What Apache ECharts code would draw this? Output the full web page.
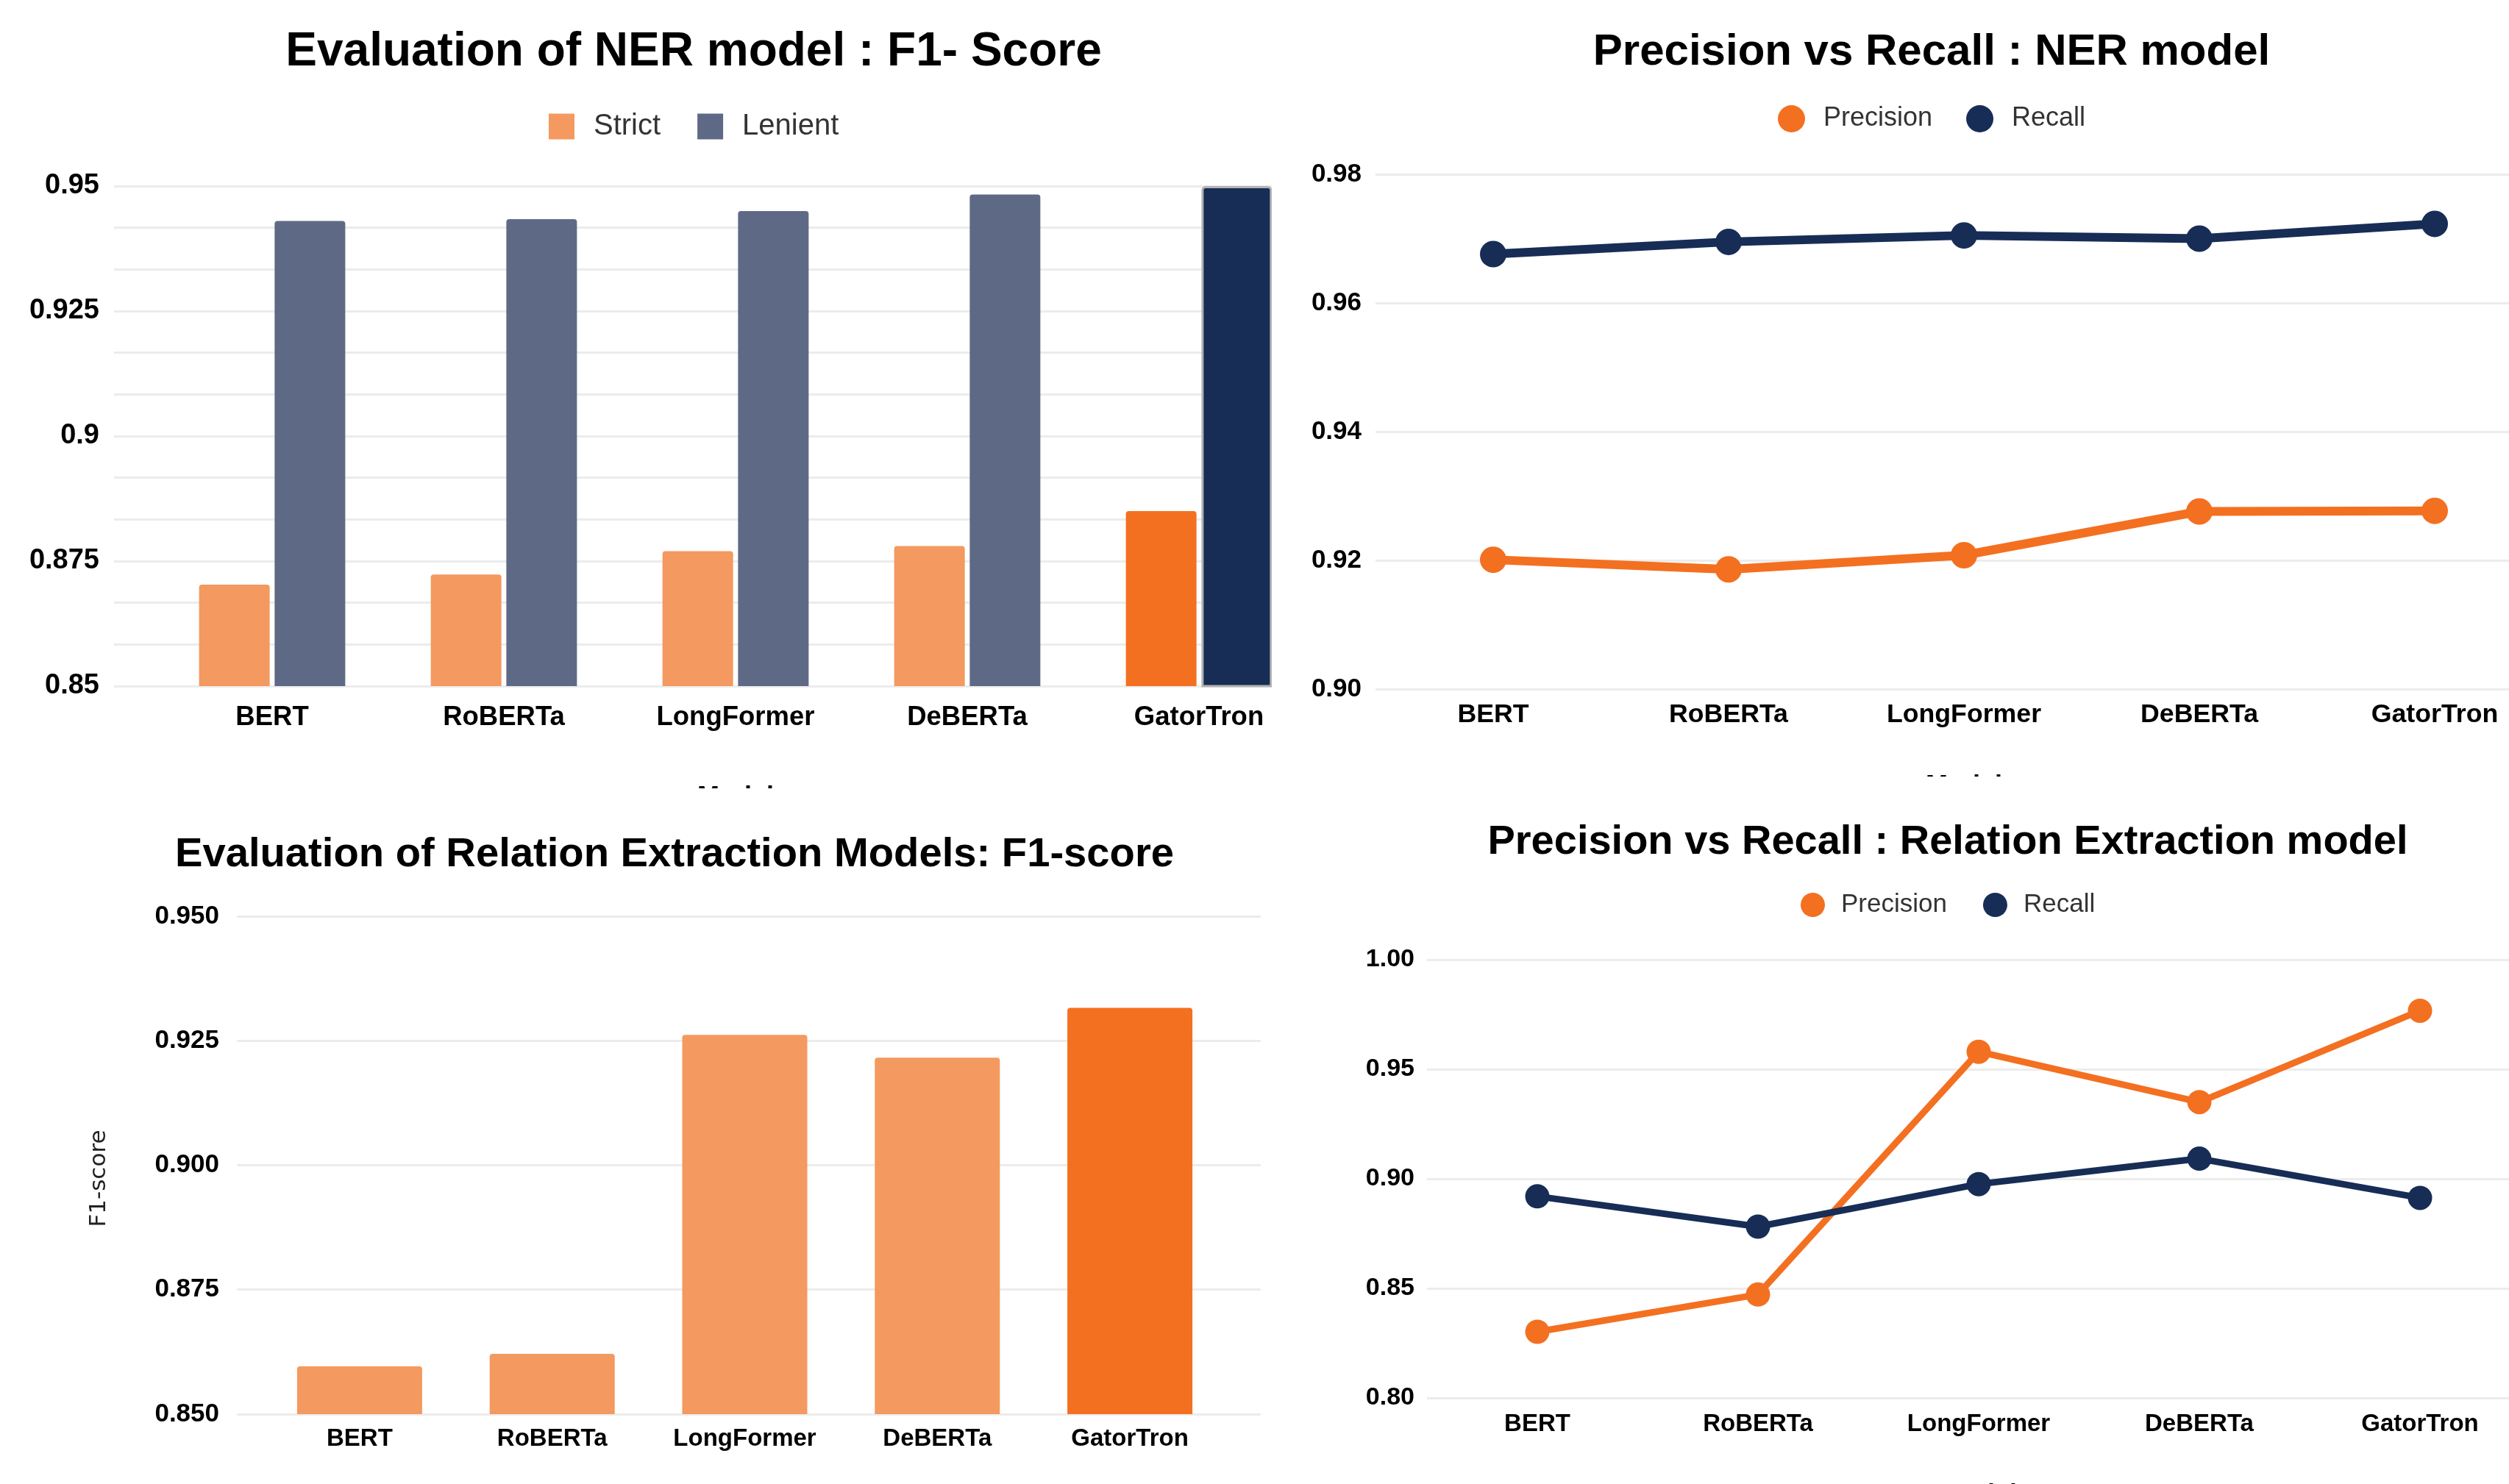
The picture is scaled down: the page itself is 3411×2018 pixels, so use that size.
<!DOCTYPE html>
<html>
<head>
<meta charset="utf-8">
<script src="https://cdn.jsdelivr.net/npm/echarts@6/dist/echarts.min.js"></script>
<style>
html,body{margin:0;padding:0;background:#fff;width:3411px;height:2018px;overflow:hidden;}
.panel{position:absolute;overflow:hidden;background:#fff;}
.chart{position:absolute;left:0;top:0;}
</style>
</head>
<body>
<div class="panel" style="left:0;top:0;width:1729px;height:1072px"><div id="c1" class="chart" style="width:1900px;height:1200px"></div></div>
<div class="panel" style="left:1729px;top:0;width:1682px;height:1056px"><div id="c2" class="chart" style="width:1800px;height:1200px"></div></div>
<div class="panel" style="left:0;top:1072px;width:1729px;height:946px"><div id="c3" class="chart" style="width:1729px;height:1100px"></div></div>
<div class="panel" style="left:1729px;top:1056px;width:1682px;height:962px"><div id="c4" class="chart" style="width:1800px;height:1100px"></div></div>
<script>
// ---- data ----
const models = ['BERT', 'RoBERTa', 'LongFormer', 'DeBERTa', 'GatorTron'];
const highlightModel = 'GatorTron';
const nerStrictF1 = [0.8703, 0.8723, 0.8770, 0.8780, 0.8850];
const nerLenientF1 = [0.9430, 0.9434, 0.9450, 0.9483, 0.9500];
const nerPrecision = [0.9201, 0.9186, 0.9208, 0.9276, 0.9277];
const nerRecall = [0.9676, 0.9695, 0.9705, 0.9700, 0.9723];
const reF1 = [0.8596, 0.8621, 0.9262, 0.9216, 0.9316];
const rePrecision = [0.8302, 0.8472, 0.9580, 0.9350, 0.9767];
const reRecall = [0.8920, 0.8782, 0.8976, 0.9092, 0.8913];

// ---- styles ----
const FONT = 'Liberation Sans, Arial, sans-serif';
const ORANGE = '#f37021', ORANGE_FADED = '#f4995f';
const NAVY = '#172d56', NAVY_FADED = '#5e6a85';
const GRID_COLOR = '#ececec';

function fmt(d) { return v => v.toFixed(d); }
function fmtTrim(v) { return String(parseFloat(v.toFixed(3))); }

function titleOpt(text, cx, cy, size) {
  return {
    text: text, left: cx, top: cy, padding: 0,
    textAlign: 'center', textVerticalAlign: 'middle',
    textStyle: { fontFamily: FONT, fontWeight: 'bold', fontSize: size, color: '#000' }
  };
}
function yLabel(size, margin, formatter) {
  return { fontFamily: FONT, fontWeight: 'bold', fontSize: size, color: '#000', margin: margin, formatter: formatter };
}
function xLabel(size, margin) {
  return { fontFamily: FONT, fontWeight: 'bold', fontSize: size, color: '#000', margin: margin, interval: 0 };
}
const splitLine = { show: true, lineStyle: { color: GRID_COLOR, width: 3 } };

// ---- Chart 1: NER F1 ----
(function () {
  const chart = echarts.init(document.getElementById('c1'), null, { renderer: 'canvas' });
  const strictData = nerStrictF1.map((v, i) => ({
    value: v, itemStyle: { color: models[i] === highlightModel ? ORANGE : ORANGE_FADED }
  }));
  const lenientData = nerLenientF1.map((v, i) => models[i] === highlightModel
    ? { value: v, itemStyle: { color: NAVY, borderColor: '#b3b3b3', borderWidth: 3 } }
    : { value: v, itemStyle: { color: NAVY_FADED } });
  chart.setOption({
    backgroundColor: '#fff',
    animation: false,
    title: titleOpt('Evaluation of NER model : F1- Score', 943, 71, 64),
    legend: {
      left: 746, top: 152, padding: 0, itemWidth: 35, itemHeight: 35, itemGap: 50, icon: 'rect',
      textStyle: { fontFamily: FONT, fontSize: 40, color: '#333', lineHeight: 35, padding: [0, 0, 0, 21] },
      data: ['Strict', 'Lenient']
    },
    grid: [
      { left: 155, top: 253, width: 1632, height: 680 },
      { left: 212.5, top: 253, width: 1575, height: 680 }
    ],
    xAxis: [
      { gridIndex: 0, type: 'value', show: false },
      { gridIndex: 1, type: 'category', data: models,
        axisLine: { show: false }, axisTick: { show: false }, axisLabel: xLabel(36.5, 24),
        name: 'Model', nameLocation: 'middle', nameGap: 134,
        nameTextStyle: { fontFamily: FONT, fontWeight: 'bold', fontSize: 36, color: '#000' } }
    ],
    yAxis: [
      { gridIndex: 0, type: 'value', min: 0.85, max: 0.95, interval: 0.025,
        axisLine: { show: false }, axisTick: { show: false },
        axisLabel: yLabel(38, 20, fmtTrim),
        splitLine: splitLine,
        minorTick: { show: false, splitNumber: 3 },
        minorSplitLine: { show: true, lineStyle: { color: GRID_COLOR, width: 3 } } },
      { gridIndex: 1, type: 'value', min: 0.85, max: 0.95, show: false, splitLine: { show: false } }
    ],
    series: [
      { name: 'Strict', type: 'bar', xAxisIndex: 1, yAxisIndex: 1, barWidth: 96, barGap: '7%',
        itemStyle: { color: ORANGE_FADED, borderRadius: [4, 4, 0, 0] }, data: strictData },
      { name: 'Lenient', type: 'bar', xAxisIndex: 1, yAxisIndex: 1, barWidth: 96, barGap: '7%',
        itemStyle: { color: NAVY_FADED, borderRadius: [4, 4, 0, 0] }, data: lenientData }
    ]
  });
})();

// ---- Chart 2: NER precision vs recall ----
(function () {
  const chart = echarts.init(document.getElementById('c2'), null, { renderer: 'canvas' });
  chart.setOption({
    backgroundColor: '#fff',
    animation: false,
    title: titleOpt('Precision vs Recall : NER model', 897, 71, 60),
    legend: {
      left: 688, top: 143, padding: 0, itemWidth: 37, itemHeight: 37, itemGap: 46, icon: 'circle',
      textStyle: { fontFamily: FONT, fontSize: 36, color: '#333', lineHeight: 37, padding: [0, 0, 0, 20] },
      data: ['Precision', 'Recall']
    },
    grid: { left: 141, top: 237, width: 1600, height: 700 },
    xAxis: { type: 'category', data: models, boundaryGap: true,
      axisLine: { show: false }, axisTick: { show: false }, axisLabel: xLabel(35.7, 17),
      name: 'Model', nameLocation: 'middle', nameGap: 115,
      nameTextStyle: { fontFamily: FONT, fontWeight: 'bold', fontSize: 36, color: '#000' } },
    yAxis: { type: 'value', min: 0.90, max: 0.98, interval: 0.02,
      axisLine: { show: false }, axisTick: { show: false },
      axisLabel: yLabel(35, 19, fmt(2)), splitLine: splitLine },
    series: [
      { name: 'Precision', type: 'line', data: nerPrecision, symbol: 'circle', symbolSize: 36,
        lineStyle: { color: ORANGE, width: 12 }, itemStyle: { color: ORANGE } },
      { name: 'Recall', type: 'line', data: nerRecall, symbol: 'circle', symbolSize: 36,
        lineStyle: { color: NAVY, width: 12 }, itemStyle: { color: NAVY } }
    ]
  });
})();

// ---- Chart 3: Relation extraction F1 ----
(function () {
  const chart = echarts.init(document.getElementById('c3'), null, { renderer: 'canvas' });
  const barData = reF1.map((v, i) => ({
    value: v, itemStyle: { color: models[i] === highlightModel ? ORANGE : ORANGE_FADED }
  }));
  chart.setOption({
    backgroundColor: '#fff',
    animation: false,
    title: titleOpt('Evaluation of Relation Extraction Models: F1-score', 917, 91, 56.2),
    grid: [
      { left: 322, top: 174, width: 1392, height: 677 },
      { left: 358, top: 174, width: 1309, height: 677 }
    ],
    xAxis: [
      { gridIndex: 0, type: 'value', show: false },
      { gridIndex: 1, type: 'category', data: models,
        axisLine: { show: false }, axisTick: { show: false }, axisLabel: xLabel(33, 17) }
    ],
    yAxis: [
      { gridIndex: 0, type: 'value', min: 0.85, max: 0.95, interval: 0.025,
        axisLine: { show: false }, axisTick: { show: false },
        axisLabel: yLabel(35, 24, fmt(3)), splitLine: splitLine,
        name: 'F1-score', nameLocation: 'middle', nameRotate: 90, nameGap: 172,
        nameTextStyle: { fontFamily: 'DejaVu Sans, sans-serif', fontSize: 31, color: '#222', padding: [0, 36, 0, 0] } },
      { gridIndex: 1, type: 'value', min: 0.85, max: 0.95, show: false, splitLine: { show: false } }
    ],
    series: [
      { name: 'F1-score', type: 'bar', xAxisIndex: 1, yAxisIndex: 1, barWidth: 170,
        itemStyle: { color: ORANGE_FADED, borderRadius: [4, 4, 0, 0] }, data: barData }
    ]
  });
})();

// ---- Chart 4: Relation extraction precision vs recall ----
(function () {
  const chart = echarts.init(document.getElementById('c4'), null, { renderer: 'canvas' });
  chart.setOption({
    backgroundColor: '#fff',
    animation: false,
    title: titleOpt('Precision vs Recall : Relation Extraction model', 919, 90, 56),
    legend: {
      left: 719, top: 157, padding: 0, itemWidth: 33, itemHeight: 33, itemGap: 49, icon: 'circle',
      textStyle: { fontFamily: FONT, fontSize: 35, color: '#333', lineHeight: 33, padding: [0, 0, 0, 17] },
      data: ['Precision', 'Recall']
    },
    grid: { left: 211, top: 249, width: 1500, height: 596 },
    xAxis: { type: 'category', data: models, boundaryGap: true,
      axisLine: { show: false }, axisTick: { show: false }, axisLabel: xLabel(33, 19),
      name: 'Model', nameLocation: 'middle', nameGap: 115,
      nameTextStyle: { fontFamily: FONT, fontWeight: 'bold', fontSize: 36, color: '#000' } },
    yAxis: { type: 'value', min: 0.80, max: 1.00, interval: 0.05,
      axisLine: { show: false }, axisTick: { show: false },
      axisLabel: yLabel(34, 17, fmt(2)), splitLine: splitLine },
    series: [
      { name: 'Precision', type: 'line', data: rePrecision, symbol: 'circle', symbolSize: 33,
        lineStyle: { color: ORANGE, width: 9 }, itemStyle: { color: ORANGE } },
      { name: 'Recall', type: 'line', data: reRecall, symbol: 'circle', symbolSize: 33,
        lineStyle: { color: NAVY, width: 9 }, itemStyle: { color: NAVY } }
    ]
  });
})();
</script>
</body>
</html>
